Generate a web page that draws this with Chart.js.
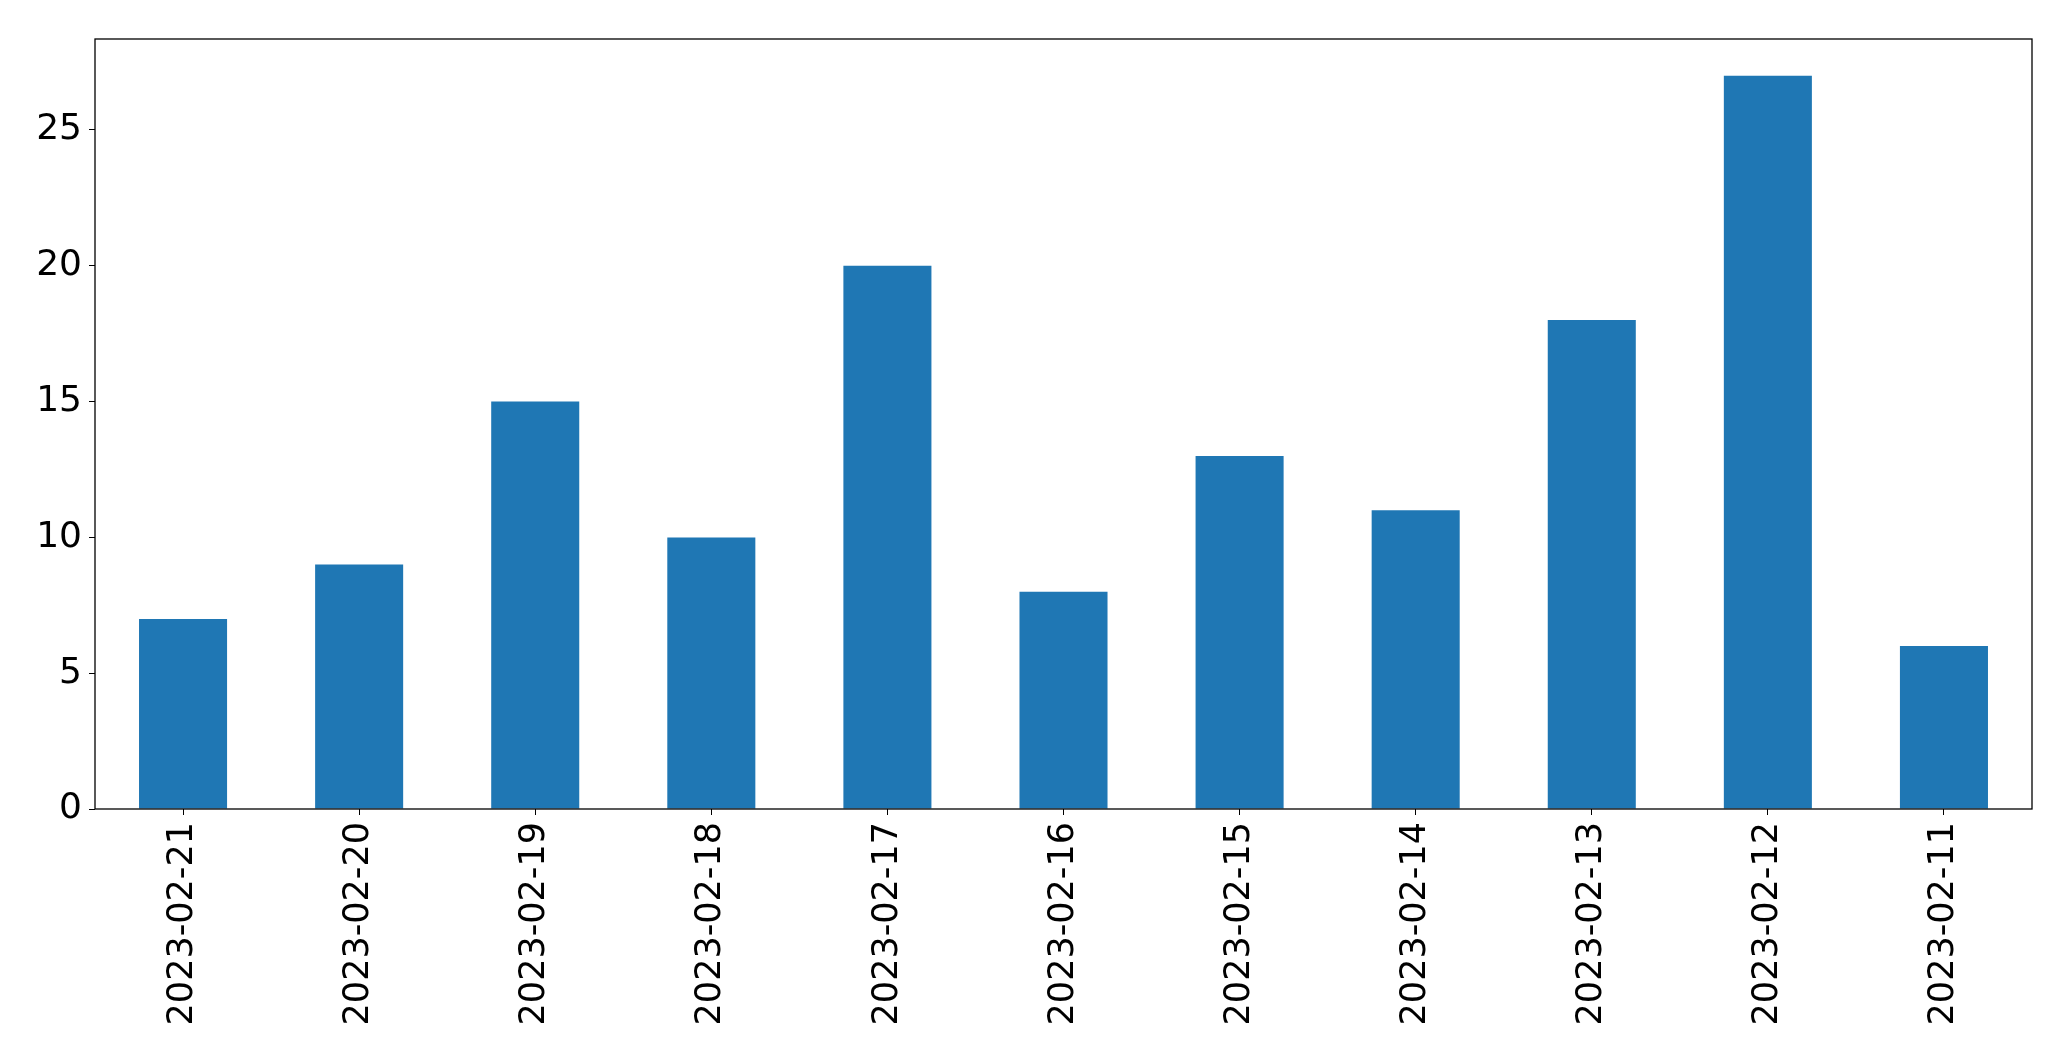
<!DOCTYPE html>
<html>
<head>
<meta charset="utf-8">
<script src="https://cdn.jsdelivr.net/npm/chart.js@4"></script>
<style>
  html, body { margin: 0; padding: 0; background: #fff; }
  #wrap { width: 2071px; height: 1061px; }
</style>
</head>
<body>
<div id="wrap"><canvas id="myChart" width="2071" height="1061"></canvas></div>
<script>
// Datos del gráfico
const dates = ['2023-02-21', '2023-02-20', '2023-02-19', '2023-02-18', '2023-02-17', '2023-02-16',
               '2023-02-15', '2023-02-14', '2023-02-13', '2023-02-12', '2023-02-11'];
const counts = [7, 9, 15, 10, 20, 8, 13, 11, 18, 27, 6];
const yTicks = [0, 5, 10, 15, 20, 25];

// Marco completo alrededor del área del gráfico
const frame = {
    id: 'frame',
    afterDraw(chart) {
        const { ctx, chartArea: a } = chart;
        ctx.save();
        ctx.strokeStyle = '#000';
        ctx.lineWidth = 1.3;
        ctx.strokeRect(a.left, a.top, a.right - a.left, a.bottom - a.top);
        ctx.restore();
    }
};

const ctx = document.getElementById('myChart').getContext('2d');
new Chart(ctx, {
    type: 'bar',
    data: {
        labels: dates,
        datasets: [{
            data: counts,
            backgroundColor: '#1f77b4',
            categoryPercentage: 1,
            barPercentage: 0.5
        }]
    },
    options: {
        responsive: false,
        animation: false,
        layout: { padding: { left: 0, right: 39, top: 39, bottom: 0 } },
        plugins: { legend: { display: false }, tooltip: { enabled: false } },
        scales: {
            x: {
                offset: true,
                grid: { display: true, drawOnChartArea: false, drawTicks: true, tickLength: 6, color: '#000', offset: false },
                border: { display: false },
                ticks: {
                    color: '#000',
                    font: { family: 'DejaVu Sans', size: 35 },
                    minRotation: 90,
                    maxRotation: 90,
                    autoSkip: false,
                    padding: 7
                },
                afterFit(scale) { scale.height = 252; }
            },
            y: {
                min: 0,
                max: Math.max(...counts) * 1.05,
                grid: { display: true, drawOnChartArea: false, drawTicks: true, tickLength: 6, color: '#000' },
                border: { display: false },
                afterBuildTicks(scale) { scale.ticks = yTicks.map(v => ({ value: v })); },
                ticks: {
                    color: '#000',
                    font: { family: 'DejaVu Sans', size: 36 },
                    padding: 7
                },
                afterFit(scale) { scale.width = 95; }
            }
        }
    },
    plugins: [frame]
});
</script>
</body>
</html>
